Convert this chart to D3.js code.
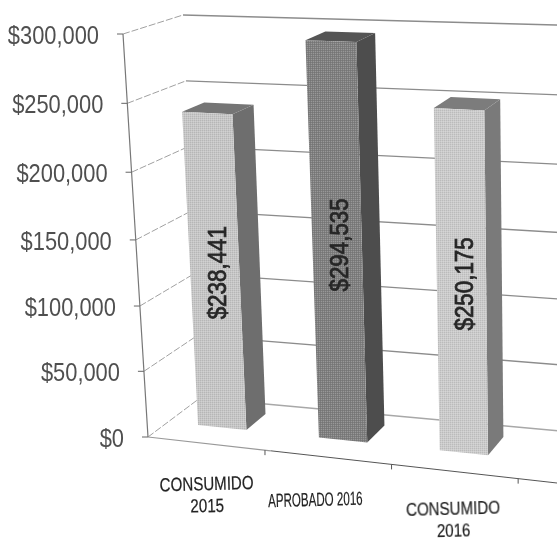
<!DOCTYPE html>
<html><head><meta charset="utf-8">
<script src="https://cdnjs.cloudflare.com/ajax/libs/d3/7.8.5/d3.min.js"></script>
<style>html,body{margin:0;padding:0;background:#fff;overflow:hidden}svg{display:block}text{font-family:"Liberation Sans",Arial,sans-serif}</style>
</head><body><svg id="c" width="557" height="542"></svg>
<script>
const categories = ["CONSUMIDO 2015", "APROBADO 2016", "CONSUMIDO 2016"];
const categoryLines = [["CONSUMIDO", "2015"], ["APROBADO 2016"], ["CONSUMIDO", "2016"]];
const values = [238441, 294535, 250175];
const yTicks = [0, 50000, 100000, 150000, 200000, 250000, 300000];

// Layout: the chart's perspective box
const frame = {
  fl0: [148, 437], flT: [123, 34], bl0: [200, 398], blT: [183, 15],
  fr0: [557, 483], frT: [557, 53], br0: [593, 434], brT: [593, 26]
};
const frac = d3.scaleLinear().domain(yTicks).range([0, .163, .325, .489, .657, .828, 1]);
const lerp = (a, b, t) => [a[0] + (b[0] - a[0]) * t, a[1] + (b[1] - a[1]) * t];
function project(u, v, w) {
  const t = frac(v);
  const fl = lerp(frame.fl0, frame.flT, t), bl = lerp(frame.bl0, frame.blT, t);
  const fr = lerp(frame.fr0, frame.frT, t), br = lerp(frame.br0, frame.brT, t);
  return lerp(lerp(fl, bl, w), lerp(fr, br, w), u);
}
const band = d3.scaleBand().domain(categories).range([-.016, .884]).paddingInner(.6).paddingOuter(.3);
const tickU = d3.scaleLinear().domain([1, 3]).range([.286, .905]);
const depthFront = .39, depthBack = .78;
const fills = [
  {front: "#c6c6c6", side: "#6e6e6e", top: "#747474"},
  {front: "#7e7e7e", side: "#4e4e4e", top: "#555555"},
  {front: "#cbcbcb", side: "#7a7a7a", top: "#7c7c7c"}
];
const line = d3.line();
const svg = d3.select("#c");
const defs = svg.append("defs");
defs.append("filter").attr("id", "soft").append("feGaussianBlur").attr("stdDeviation", .5);
fills.forEach((f, i) => {
  const p = defs.append("pattern").attr("id", "h" + i).attr("width", 2).attr("height", 2)
    .attr("patternUnits", "userSpaceOnUse");
  p.append("rect").attr("width", 2).attr("height", 2).attr("fill", f.front);
  p.append("rect").attr("x", 1).attr("y", 1).attr("width", 1).attr("height", 1).attr("fill", "#fff").attr("opacity", .2);
  p.append("rect").attr("x", 0).attr("y", 0).attr("width", 1).attr("height", 1).attr("fill", "#000").attr("opacity", .08);
});
const root = svg.append("g").attr("filter", "url(#soft)");

// Walls
const grid = root.append("g").attr("fill", "none");
grid.selectAll("path.wall").data(yTicks.slice(1)).join("path").attr("class", "wall")
  .attr("d", v => line([project(0, v, 1), project(1, v, 1)]))
  .attr("stroke", "#8c8c8c").attr("stroke-width", 1.3);
grid.selectAll("path.back").data(yTicks.slice(0, 1)).join("path").attr("class", "back")
  .attr("d", v => line([project(0, v, 1), project(1, v, 1)]))
  .attr("stroke", "#a8a8a8").attr("stroke-width", 1.3);
grid.selectAll("path.side").data(yTicks).join("path").attr("class", "side")
  .attr("d", v => line([project(0, v, 0), project(0, v, 1)]))
  .attr("stroke", "#a0a0a0").attr("stroke-width", 1).attr("stroke-dasharray", "7 2");
grid.append("path").attr("d", line(yTicks.map(v => project(0, v, 0))))
  .attr("stroke", "#777").attr("stroke-width", 1.2);
grid.selectAll("path.tick").data(yTicks).join("path").attr("class", "tick")
  .attr("d", v => { const p = project(0, v, 0); return line([[p[0] - 6, p[1]], p]); })
  .attr("stroke", "#666");
grid.append("path").attr("d", line([project(0, 0, 0), project(.3, 0, 0)])).attr("stroke", "#999").attr("stroke-width", 1.2);
grid.append("path").attr("d", line([project(.3, 0, 0), project(1, 0, 0)])).attr("stroke", "#555").attr("stroke-width", 1);
grid.selectAll("path.xtick").data([1, 2, 3]).join("path").attr("class", "xtick")
  .attr("d", k => { const p = project(tickU(k), 0, 0); return line([p, [p[0], p[1] + 5]]); })
  .attr("stroke", "#555");

// Bars
const bars = root.selectAll("g.bar").data(values).join("g").attr("class", "bar");
const corners = (v, i) => {
  const a = band(categories[i]), b = a + band.bandwidth();
  return {
    fl0: project(a, 0, depthFront), fr0: project(b, 0, depthFront), br0: project(b, 0, depthBack),
    flT: project(a, v, depthFront), frT: project(b, v, depthFront), brT: project(b, v, depthBack), blT: project(a, v, depthBack)
  };
};
bars.append("path").attr("fill", (v, i) => fills[i].side)
  .attr("d", (v, i) => { const c = corners(v, i); return line([c.fr0, c.br0, c.brT, c.frT]) + "Z"; });
bars.append("path").attr("fill", (v, i) => fills[i].top)
  .attr("d", (v, i) => { const c = corners(v, i); return line([c.flT, c.frT, c.brT, c.blT]) + "Z"; });
bars.append("path").attr("fill", (v, i) => `url(#h${i})`)
  .attr("d", (v, i) => { const c = corners(v, i); return line([c.fl0, c.fr0, c.frT, c.flT]) + "Z"; });

// Value labels
const fmt = d3.format("$,");
root.selectAll("text.val").data(values).join("text").attr("class", "val")
  .attr("transform", (v, i) => {
    const p = project(band(categories[i]) + band.bandwidth() / 2, v / 2, depthFront);
    return `translate(${p[0] + 2},${p[1]}) rotate(-90) scale(.86,1)`;
  })
  .attr("text-anchor", "middle").attr("dy", ".36em").attr("font-size", 26)
  .attr("fill", "#262626").attr("stroke", "#262626").attr("stroke-width", .8).text(fmt);

// Y labels
root.selectAll("text.y").data(yTicks).join("text").attr("class", "y")
  .attr("text-anchor", "end").attr("font-size", 25).attr("fill", "#505050")
  .attr("transform", v => { const p = project(0, v, 0); return `translate(${p[0] - 24},${p[1] + 10}) scale(.875,1)`; })
  .text(fmt);

// Category labels
const labelShift = [[4, 47], [-10, 49], [5, 44]];
const labelSqueeze = [.795, .61, .795];
const cat = root.selectAll("g.cat").data(categoryLines).join("g").attr("class", "cat")
  .attr("transform", (d, i) => {
    const c = band(categories[i]) + band.bandwidth() / 2;
    const p = project(c, 0, 0);
    return `translate(${p[0] + labelShift[i][0]},${p[1] + labelShift[i][1]}) rotate(-1.5) scale(${labelSqueeze[i]},1)`;
  });
cat.selectAll("text").data(d => d).join("text").attr("text-anchor", "middle")
  .attr("y", (d, j) => j * 22).attr("font-size", 19).attr("fill", "#222").attr("stroke", "#222").attr("stroke-width", .2).text(d => d);
</script></body></html>
